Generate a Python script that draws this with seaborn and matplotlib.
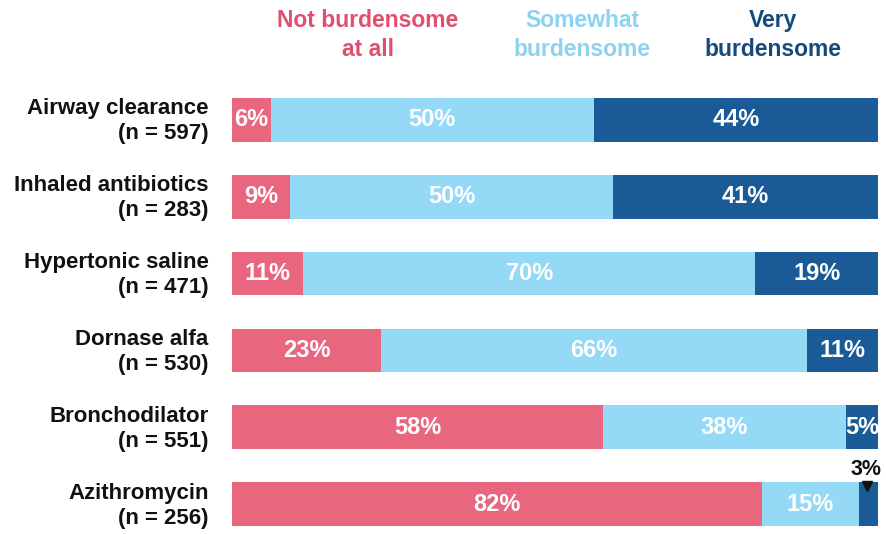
import matplotlib
matplotlib.use("Agg")
import matplotlib.pyplot as plt
import matplotlib.transforms as mtransforms
import seaborn as sns
import pandas as pd
import numpy as np

categories = ["Airway clearance\n(n = 597)", "Inhaled antibiotics\n(n = 283)",
              "Hypertonic saline\n(n = 471)", "Dornase alfa\n(n = 530)",
              "Bronchodilator\n(n = 551)", "Azithromycin\n(n = 256)"]
not_burden = [6, 9, 11, 23, 58, 82]
somewhat = [50, 50, 70, 66, 38, 15]
very = [44, 41, 19, 11, 5, 3]
series_names = ["Not burdensome\nat all", "Somewhat\nburdensome", "Very\nburdensome"]

col_bars = ["#E8677F", "#94D9F5", "#1A5B97"]
col_text = ["#E0506E", "#8DD2EE", "#174A7C"]

sns.set_theme(style="white")
plt.rcParams['font.family'] = ['Liberation Sans', 'DejaVu Sans']

df = pd.DataFrame({"cat": categories, "not": not_burden, "some": somewhat, "very": very})
total = df["not"] + df["some"] + df["very"]
# each row drawn as share of its own total (rounded labels may sum to 101)
df["c1"] = df["not"] / total * 100
df["c2"] = (df["not"] + df["some"]) / total * 100
df["c3"] = 100 * total / total

fig = plt.figure(figsize=(8.86, 5.34), dpi=100)
ax = fig.add_axes([0.262, 0.015, 0.729, 0.8015])

h = 0.57
for col, c in zip(["c3", "c2", "c1"], [col_bars[2], col_bars[1], col_bars[0]]):
    sns.barplot(data=df, x=col, y="cat", orient="h", color=c, width=h,
                saturation=1, ax=ax, linewidth=0, order=categories)

ax.set_xlim(0, 100)
ax.set_ylim(len(categories) - 1 + h / 2, -h / 2)
ax.set_xlabel("")
ax.set_ylabel("")
ax.set_xticks([])
for s in ax.spines.values():
    s.set_visible(False)
ax.tick_params(axis="y", length=0, pad=17)
offset = mtransforms.ScaledTranslation(0, 3 / 100, fig.dpi_scale_trans)
for lab in ax.get_yticklabels():
    lab.set_fontsize(16)
    lab.set_fontweight("bold")
    lab.set_color("#111111")
    lab.set_horizontalalignment("right")
    lab.set_multialignment("right")
    lab.set_linespacing(1.25)
    lab.set_transform(lab.get_transform() + offset)

for i in range(len(categories)):
    starts = [0, df["c1"][i], df["c2"][i]]
    ends = [df["c1"][i], df["c2"][i], df["c3"][i]]
    vals = [not_burden[i], somewhat[i], very[i]]
    for s0, e0, v in zip(starts, ends, vals):
        if v < 4:
            continue
        ax.text((s0 + e0) / 2, i, f"{v}%", ha="center", va="center", color="white",
                fontsize=17, fontweight="bold")

# small segment annotation
i = 5
xc = (df["c2"][i] + df["c3"][i]) / 2
ax.text(xc - 0.3, i - 0.454, f"{very[i]}%", ha="center", va="center",
        fontsize=15.5, fontweight="bold", color="#111111", clip_on=False)
ax.plot([xc - 0.2], [i - 0.23], marker="v", color="#111111", markersize=7,
        linestyle="none", clip_on=False)

# header legend texts
hx = [368, 582, 773]
for name, c, x in zip(series_names, col_text, hx):
    fig.text(x / 886, 1 - 35 / 534, name, ha="center", va="center", color=c,
             fontsize=16.5, fontweight="bold", linespacing=1.3)

fig.savefig("out.png", dpi=100)
